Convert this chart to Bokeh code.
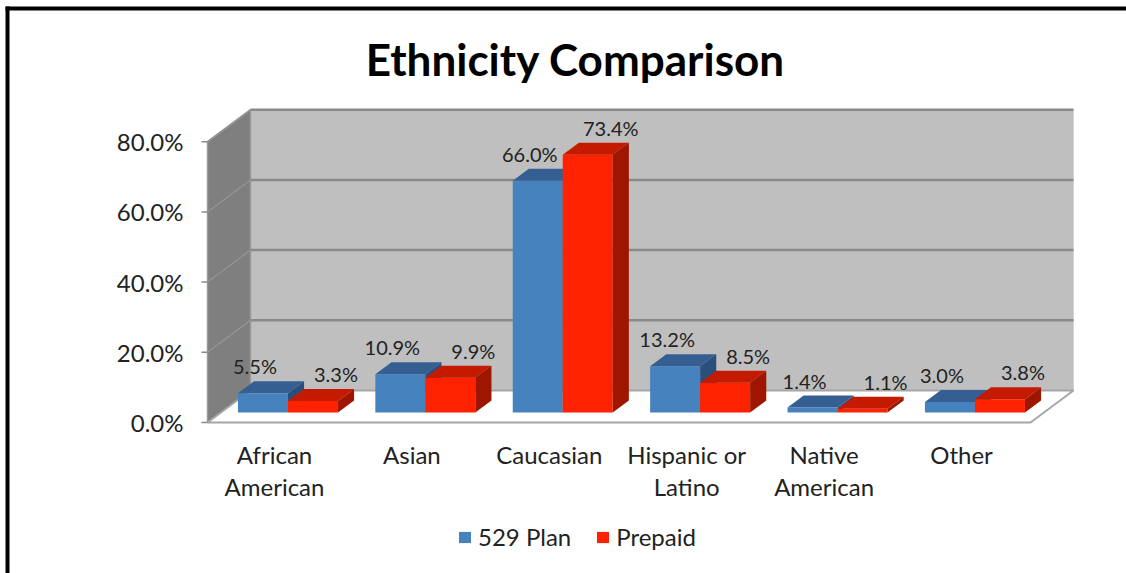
from bokeh.plotting import figure
from bokeh.models import Range1d, Legend, LegendItem
from bokeh.core.properties import value
from bokeh.embed import file_html
from bokeh.resources import INLINE

# ---------------- data ----------------
categories = ["African\nAmerican", "Asian", "Caucasian", "Hispanic or\nLatino", "Native\nAmerican", "Other"]
plan529 = [5.5, 10.9, 66.0, 13.2, 1.4, 3.0]
prepaid = [3.3, 9.9, 73.4, 8.5, 1.1, 3.8]
series_names = ["529 Plan", "Prepaid"]
y_ticks = [0, 20, 40, 60, 80]
y_tick_labels = ["0.0%", "20.0%", "40.0%", "60.0%", "80.0%"]
title_text = "Ethnicity Comparison"

# ---------------- geometry (pixel -> data helpers) ----------------
W, H = 1126, 573
PX = 137.4      # pixels per category step
PY = 3.51       # pixels per percent
X0 = 274.0      # pixel x of first category centre (front plane)
Y0 = 422.0      # pixel y of 0 % (front plane)


def dx(px):
    return (px - X0) / PX


def dy(py):
    return (Y0 - py) / PY


DDX = 43.0 / PX   # full depth shift in x (data units)
DDY = 32.0 / PY   # full depth shift in y (data units)


def proj(x, y, d):
    return x + d * DDX, y + d * DDY


XL = dx(207)
XR = dx(1030)
YTOP = y_ticks[-1]
BW = 50.0 / PX
D0, D1 = 0.3125, 0.6875

p = figure(width=W, height=H, min_border=0, toolbar_location=None,
           output_backend="svg",
           x_range=Range1d(dx(0), dx(W)), y_range=Range1d(dy(H), dy(0)))
p.axis.visible = False
p.grid.visible = False
p.outline_line_color = None
p.background_fill_color = "white"
p.border_fill_color = "white"

# black frame (top and left)
p.quad(left=[dx(5), dx(5)], right=[dx(W + 5), dx(9)],
       top=[dy(6), dy(6)], bottom=[dy(10), dy(H + 5)],
       fill_color="black", line_color=None)


def poly(pts):
    return [a for a, b in pts], [b for a, b in pts]


# back wall
bx, by = poly([proj(XL, 0, 1), proj(XR, 0, 1), proj(XR, YTOP, 1), proj(XL, YTOP, 1)])
p.patch(bx, by, fill_color="#bfbfbf", line_color="#d4d4d4", line_width=1)
# side wall
sx, sy = poly([proj(XL, 0, 0), proj(XL, 0, 1), proj(XL, YTOP, 1), proj(XL, YTOP, 0)])
p.patch(sx, sy, fill_color="#7f7f7f", line_color="#9a9a9a", line_width=1.5)

# gridlines on back wall and side wall
gx, gy, sgx, sgy = [], [], [], []
for v in y_ticks[1:]:
    a, b = proj(XL, v, 1), proj(XR, v, 1)
    gx.append([a[0], b[0]]); gy.append([a[1], b[1]])
    c, d = proj(XL, v, 0), proj(XL, v, 1)
    sgx.append([c[0], d[0]]); sgy.append([c[1], d[1]])
p.multi_line(gx, gy, line_color="#8a8a8a", line_width=2.5)
p.multi_line(sgx, sgy, line_color="#959595", line_width=1.2)

# floor
fx, fy = poly([proj(XL, 0, 0), proj(XR, 0, 0), proj(XR, 0, 1), proj(XL, 0, 1)])
p.patch(fx, fy, fill_color="white", line_color="#a6a6a6", line_width=2)

# tick marks on front edge
tx, ty = [], []
for v in y_ticks:
    a, b = proj(XL - 6 / PX, v, 0), proj(XL, v, 0)
    tx.append([a[0], b[0]]); ty.append([a[1], b[1]])
p.multi_line(tx, ty, line_color="#8a8a8a", line_width=1.5)


# 3D bars
def faces(x0, x1, h):
    front = [proj(x0, 0, D0), proj(x1, 0, D0), proj(x1, h, D0), proj(x0, h, D0)]
    top = [proj(x0, h, D0), proj(x1, h, D0), proj(x1, h, D1), proj(x0, h, D1)]
    side = [proj(x1, 0, D0), proj(x1, 0, D1), proj(x1, h, D1), proj(x1, h, D0)]
    return front, top, side


series = [
    (plan529, -BW, "#4682be", "#355f92", "#2b4f7d"),
    (prepaid, 0.0, "#ff2200", "#c41a00", "#9e1500"),
]
front_renderers = []
label_x, label_y, label_t = [], [], []
label_off_x = [-8 / PX, 23 / PX]
for k, (vals, off, cf, ct, cs) in enumerate(series):
    F = {"xs": [], "ys": []}; T = {"xs": [], "ys": []}; S = {"xs": [], "ys": []}
    for i, v in enumerate(vals):
        x0 = i + off
        fr, tp, sd = faces(x0, x0 + BW, v)
        for store, pts in ((F, fr), (T, tp), (S, sd)):
            xs_, ys_ = poly(pts)
            store["xs"].append(xs_); store["ys"].append(ys_)
        cx, cy = proj(x0 + BW / 2, v, D0)
        label_x.append(cx + label_off_x[k])
        label_y.append(cy + 27 / PY)
        label_t.append(f"{v:.1f}%")
    rf = p.patches(F["xs"], F["ys"], fill_color=cf, line_color=None)
    p.patches(T["xs"], T["ys"], fill_color=ct, line_color=None)
    p.patches(S["xs"], S["ys"], fill_color=cs, line_color=None)
    front_renderers.append(rf)

# data labels
p.text(x=label_x, y=label_y, text=label_t, text_font=value("Lato"),
       text_font_size="20px", text_color="#222222",
       text_align="center", text_baseline="middle")

# y tick labels
p.text(x=[dx(183)] * len(y_ticks), y=y_ticks, text=y_tick_labels,
       text_font=value("Lato"), text_font_size="24px", text_color="#222222",
       text_align="right", text_baseline="middle")

# category labels
p.text(x=list(range(len(categories))), y=[dy(439)] * len(categories), text=categories,
       text_font=value("Lato"), text_font_size="24px", text_color="#222222",
       text_align="center", text_baseline="top", text_line_height=1.11)

# title
p.text(x=[dx(575)], y=[dy(58)], text=[title_text], text_font=value("Lato"),
       text_font_style="bold", text_font_size="44px", text_color="black",
       text_align="center", text_baseline="middle")

legend = Legend(items=[LegendItem(label=series_names[0], renderers=[front_renderers[0]]),
                       LegendItem(label=series_names[1], renderers=[front_renderers[1]])],
                orientation="horizontal", location=(457, H - 551),
                padding=0, margin=0, spacing=24, label_standoff=6,
                glyph_width=15, glyph_height=14, label_height=14,
                border_line_color=None, background_fill_alpha=0,
                label_text_font="Lato", label_text_font_size="24px",
                label_text_color="#222222")
p.add_layout(legend)

open("out.html", "w").write(file_html(p, INLINE))
